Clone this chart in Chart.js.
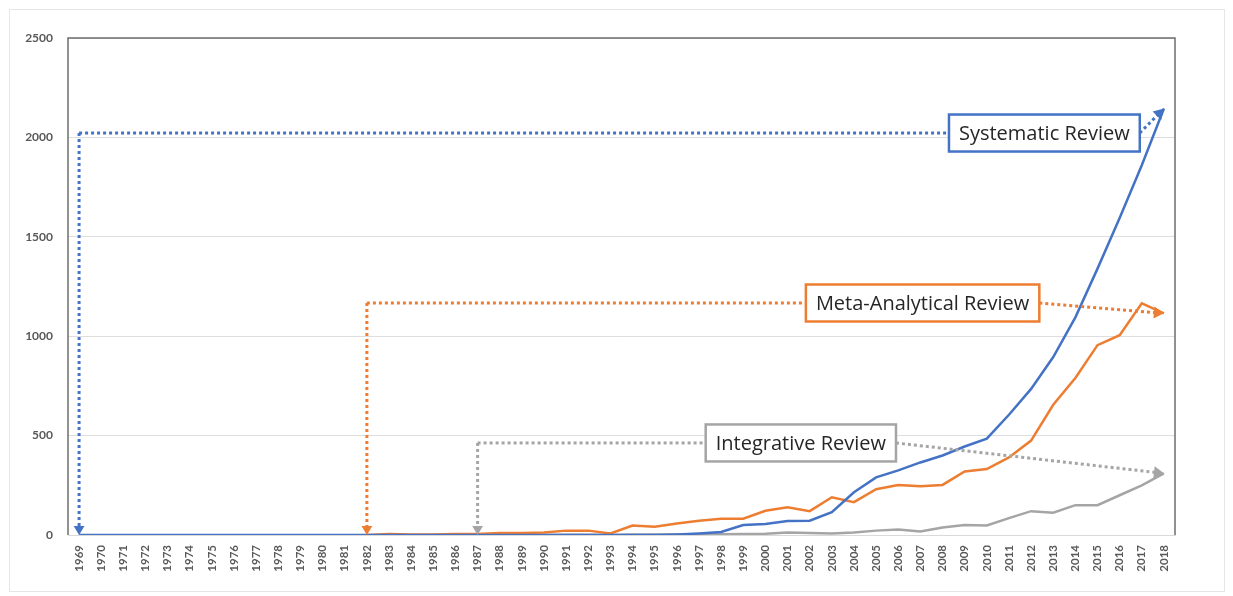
<!DOCTYPE html>
<html>
<head>
<meta charset="utf-8">
<script src="https://cdn.jsdelivr.net/npm/chart.js@4.4.1/dist/chart.umd.min.js"></script>
<style>
html,body{margin:0;padding:0;background:#fff;}
#wrap{width:1233px;height:596px;position:relative;}
</style>
</head>
<body>
<div id="wrap"><canvas id="c" width="1233" height="596"></canvas></div>
<script>
const years = ["1969","1970","1971","1972","1973","1974","1975","1976","1977","1978","1979","1980","1981","1982","1983","1984","1985","1986","1987","1988","1989","1990","1991","1992","1993","1994","1995","1996","1997","1998","1999","2000","2001","2002","2003","2004","2005","2006","2007","2008","2009","2010","2011","2012","2013","2014","2015","2016","2017","2018"];

const systematic = [0,0,0,0,0,0,0,0,0,0,0,0,0,0,0,0,0,0,0,0,0,0,0,0,0,0,0,
  3,8,15,50,55,70,72,115,215,290,325,365,400,445,485,605,735,895,1095,1340,1595,1860,2145];

const metaAnalytical = [null,null,null,null,null,null,null,null,null,null,null,null,null,
  0,5,2,2,5,5,10,10,12,22,22,8,48,42,58,72,82,82,122,140,120,190,165,230,252,245,252,320,332,390,475,655,790,955,1005,1165,1115];

const integrative = [null,null,null,null,null,null,null,null,null,null,null,null,null,null,null,null,null,null,
  0,0,0,0,1,1,0,2,2,3,3,4,5,6,12,10,8,12,22,28,18,38,50,48,85,120,112,150,150,200,250,310];

const yTicks = [0,500,1000,1500,2000,2500];

const seriesNames = ["Systematic Review","Meta-Analytical Review","Integrative Review"];
const seriesColors = ["#4472C4","#ED7D31","#A5A5A5"];
// annotation anchors in data space: start year index, level value, box centre (year index)
const calloutStartIndex = [0,13,18];
const calloutLevel = [2022,1167,463];
const calloutBoxCenter = [43.6,38.1,32.6];

function arrowHead(ctx, x1, y1, x2, y2, size, color){
  const a = Math.atan2(y2-y1, x2-x1);
  ctx.save();
  ctx.fillStyle = color;
  ctx.beginPath();
  ctx.moveTo(x2, y2);
  ctx.lineTo(x2 - size*Math.cos(a) + size*0.6*Math.sin(a), y2 - size*Math.sin(a) - size*0.6*Math.cos(a));
  ctx.lineTo(x2 - size*Math.cos(a) - size*0.6*Math.sin(a), y2 - size*Math.sin(a) + size*0.6*Math.cos(a));
  ctx.closePath();
  ctx.fill();
  ctx.restore();
}
function dotted(ctx, x1, y1, x2, y2, color){
  ctx.save();
  ctx.strokeStyle = color;
  ctx.lineWidth = 3;
  ctx.setLineDash([3,3]);
  ctx.beginPath();
  ctx.moveTo(x1,y1);
  ctx.lineTo(x2,y2);
  ctx.stroke();
  ctx.restore();
}

const framePlugin = {
  id: 'frame',
  beforeDraw(chart){
    const ctx = chart.ctx;
    ctx.save();
    ctx.fillStyle = '#fff';
    ctx.fillRect(0,0,chart.width,chart.height);
    ctx.strokeStyle = '#e6e6e6';
    ctx.lineWidth = 1;
    ctx.strokeRect(9.5,9.5,chart.width-18,chart.height-14);
    ctx.restore();
  },
  afterDatasetsDraw(chart){
    const ctx = chart.ctx;
    const a = chart.chartArea;
    const xs = chart.scales.x, ys = chart.scales.y;
    ctx.save();
    ctx.strokeStyle = '#6d6d6d';
    ctx.lineWidth = 1.5;
    ctx.beginPath();
    ctx.moveTo(a.left, a.bottom);
    ctx.lineTo(a.left, a.top);
    ctx.lineTo(a.right, a.top);
    ctx.lineTo(a.right, a.bottom);
    ctx.stroke();
    ctx.restore();

    const datasets = [systematic, metaAnalytical, integrative];
    ctx.font = '20px "Open Sans", sans-serif';
    for (let i=0;i<3;i++){
      const color = seriesColors[i];
      const x0 = xs.getPixelForValue(calloutStartIndex[i]);
      const yl = ys.getPixelForValue(calloutLevel[i]);
      const yb = ys.getPixelForValue(0);
      const bc = xs.left + (calloutBoxCenter[i]+0.5)*(xs.width/years.length);
      const tw = ctx.measureText(seriesNames[i]).width;
      const bw = tw + 20, bh = 37;
      const bl = bc - bw/2, br = bc + bw/2;
      // vertical
      dotted(ctx, x0, yl, x0, yb-8, color);
      arrowHead(ctx, x0, yl, x0, yb, 9, color);
      // horizontal
      dotted(ctx, x0, yl, bl, yl, color);
      // to line end
      const last = datasets[i].length-1;
      const ex = xs.getPixelForValue(last);
      const ey = ys.getPixelForValue(datasets[i][last]);
      const ang = Math.atan2(ey-yl, ex-br);
      dotted(ctx, br, yl, ex-8*Math.cos(ang), ey-8*Math.sin(ang), color);
      arrowHead(ctx, br, yl, ex, ey, 10, color);
      // box
      ctx.save();
      ctx.fillStyle = '#fff';
      ctx.fillRect(bl, yl-bh/2, bw, bh);
      ctx.strokeStyle = color;
      ctx.lineWidth = 2.5;
      ctx.strokeRect(bl, yl-bh/2, bw, bh);
      ctx.fillStyle = '#262626';
      ctx.textAlign = 'center';
      ctx.textBaseline = 'middle';
      ctx.fillText(seriesNames[i], bc, yl+1);
      ctx.restore();
    }
  }
};

new Chart(document.getElementById('c'), {
  type: 'line',
  data: {
    labels: years,
    datasets: [
      {label: seriesNames[0], data: systematic, borderColor: seriesColors[0], borderWidth: 2.5, pointRadius: 0, tension: 0},
      {label: seriesNames[1], data: metaAnalytical, borderColor: seriesColors[1], borderWidth: 2.5, pointRadius: 0, tension: 0},
      {label: seriesNames[2], data: integrative, borderColor: seriesColors[2], borderWidth: 2.5, pointRadius: 0, tension: 0}
    ]
  },
  options: {
    responsive: false,
    animation: false,
    layout: {padding: {top: 38, right: 58, left: 0, bottom: 0}},
    plugins: {legend: {display: false}, tooltip: {enabled: false}},
    scales: {
      x: {
        offset: true,
        grid: {display: false, drawTicks: false},
        border: {display: true, color: '#d9d9d9', width: 1},
        ticks: {
          autoSkip: false, minRotation: 90, maxRotation: 90, padding: 10,
          color: '#595959', font: {family: 'Lato, "Open Sans", sans-serif', size: 11.5, weight: 'bold'}
        },
        afterFit(s){ s.height = 61; }
      },
      y: {
        min: 0, max: 2500,
        afterBuildTicks(s){ s.ticks = yTicks.map(v => ({value: v})); },
        grid: {color: '#dedede', lineWidth: 1, drawTicks: false},
        border: {display: false},
        ticks: {
          padding: 15, color: '#595959',
          font: {family: 'Lato, "Open Sans", sans-serif', size: 12, weight: 'bold'},
          callback: v => String(v)
        },
        afterFit(s){ s.width = 68; }
      }
    }
  },
  plugins: [framePlugin]
});
</script>
</body>
</html>
